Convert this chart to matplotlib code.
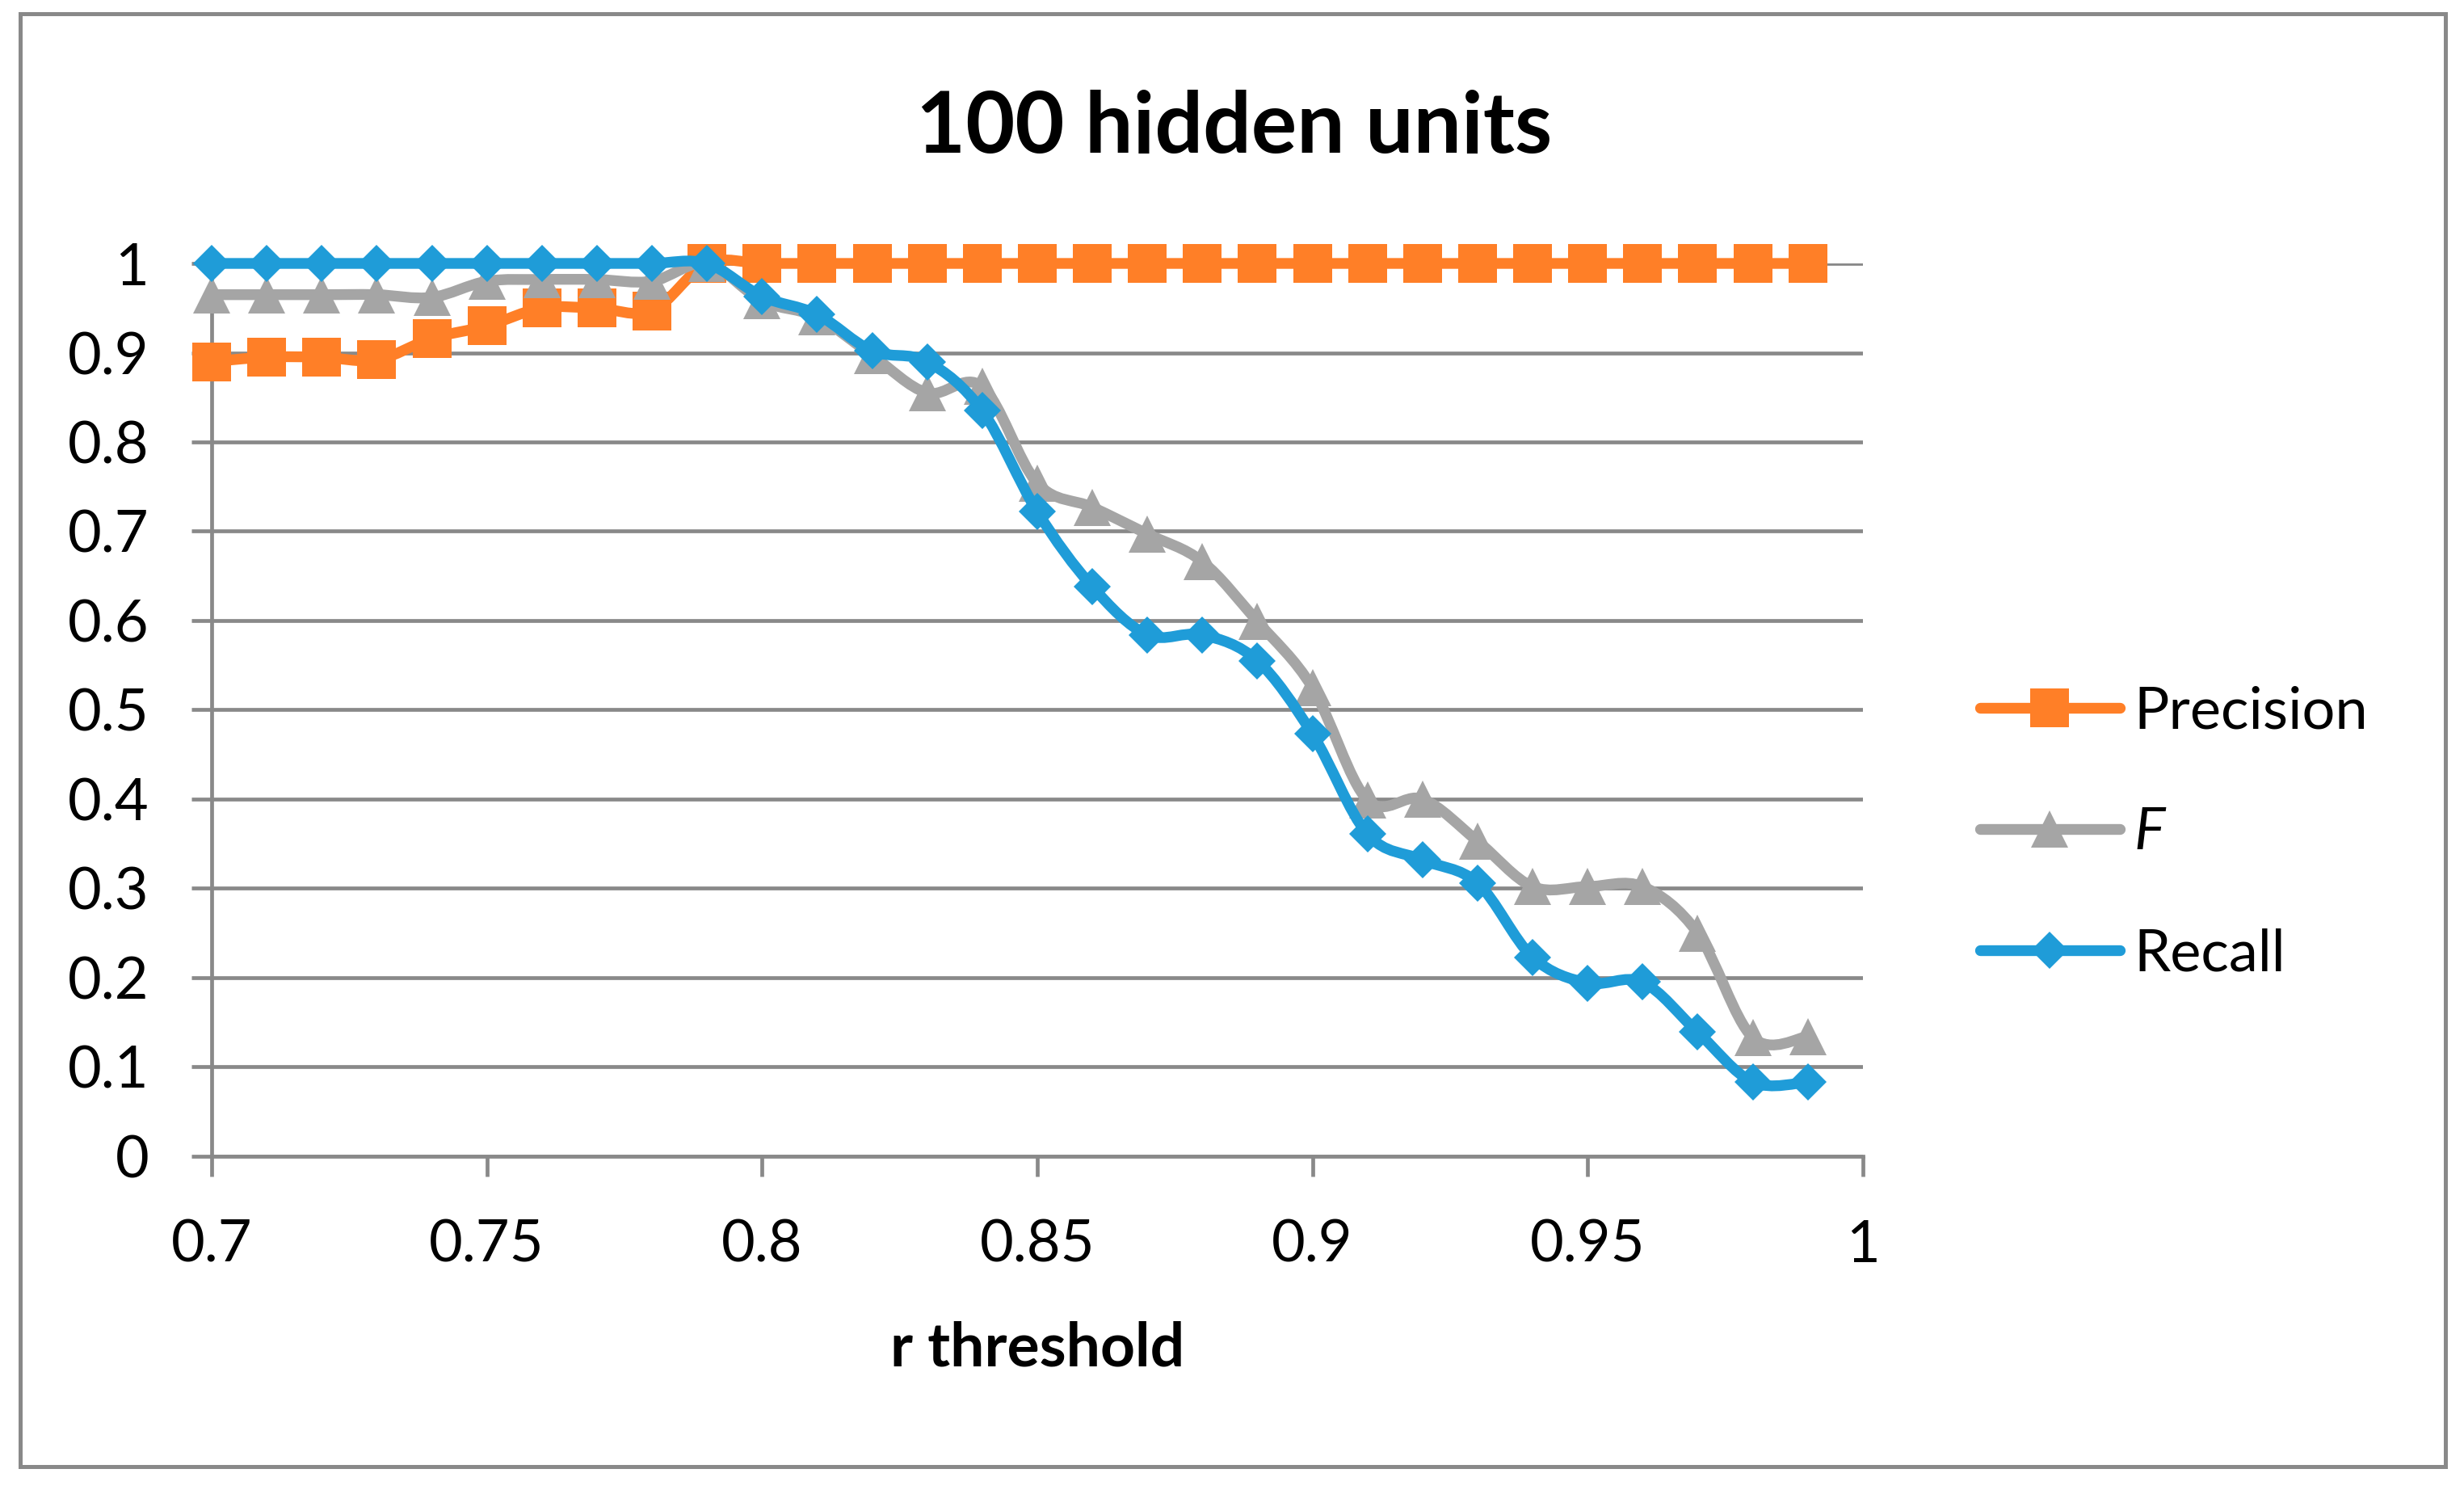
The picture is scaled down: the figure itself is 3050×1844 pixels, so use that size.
import numpy as np
import matplotlib
matplotlib.use("Agg")
import matplotlib.pyplot as plt
from matplotlib.path import Path
from matplotlib.patches import PathPatch, Rectangle
from matplotlib.lines import Line2D
from matplotlib.ticker import FuncFormatter

plt.rcParams['font.family'] = ['Lato', 'DejaVu Sans']

# data
r_threshold = [0.70, 0.71, 0.72, 0.73, 0.74, 0.75, 0.76, 0.77, 0.78, 0.79,
               0.80, 0.81, 0.82, 0.83, 0.84, 0.85, 0.86, 0.87, 0.88, 0.89,
               0.90, 0.91, 0.92, 0.93, 0.94, 0.95, 0.96, 0.97, 0.98, 0.99]
precision = [0.890, 0.895, 0.895, 0.892, 0.916, 0.930, 0.950, 0.950, 0.947, 1.0,
             1.0, 1.0, 1.0, 1.0, 1.0, 1.0, 1.0, 1.0, 1.0, 1.0,
             1.0, 1.0, 1.0, 1.0, 1.0, 1.0, 1.0, 1.0, 1.0, 1.0]
f_score = [0.965, 0.965, 0.965, 0.965, 0.962, 0.980, 0.982, 0.982, 0.980, 1.0,
           0.958, 0.940, 0.897, 0.855, 0.862, 0.754, 0.727, 0.697, 0.666, 0.599,
           0.525, 0.399, 0.400, 0.353, 0.302, 0.302, 0.302, 0.250, 0.133, 0.134]
recall = [1.0, 1.0, 1.0, 1.0, 1.0, 1.0, 1.0, 1.0, 1.0, 1.0,
          0.963, 0.943, 0.902, 0.890, 0.835, 0.722, 0.638, 0.584, 0.584, 0.555,
          0.473, 0.361, 0.332, 0.306, 0.223, 0.194, 0.195, 0.139, 0.083, 0.083]

x_ticks = [0.7, 0.75, 0.8, 0.85, 0.9, 0.95, 1.0]
y_ticks = [0, 0.1, 0.2, 0.3, 0.4, 0.5, 0.6, 0.7, 0.8, 0.9, 1.0]

GRID = '#898989'
LW = 4.8
FS = 26


def smooth_path(xs, ys):
    # excel style smoothed line: bezier segments, catmull-rom control points
    p = np.column_stack([xs, ys]).astype(float)
    n = len(p)
    verts = [p[0]]
    codes = [Path.MOVETO]
    for i in range(n - 1):
        p0 = p[i - 1] if i > 0 else p[i]
        p3 = p[i + 2] if i + 2 < n else p[i + 1]
        c1 = p[i] + (p[i + 1] - p0) / 6.0
        c2 = p[i + 1] - (p3 - p[i]) / 6.0
        verts += [c1, c2, p[i + 1]]
        codes += [Path.CURVE4] * 3
    return Path(verts, codes)


fig = plt.figure(figsize=(15.25, 9.22), dpi=200)
ax = fig.add_axes([0.0859, 0.224, 0.6701, 0.5992])

series = [
    ("Precision", precision, '#FF7F27', 's', 17),
    ("F", f_score, '#A5A5A5', '^', 16.5),
    ("Recall", recall, '#1F9CD8', 'D', 11.8),
]

handles = []
for k, (name, vals, col, mk, ms) in enumerate(series):
    patch = PathPatch(smooth_path(r_threshold, vals), facecolor='none', edgecolor=col,
                      lw=LW, capstyle='round', joinstyle='round', zorder=3 + k, clip_on=False)
    ax.add_patch(patch)
    ax.plot(r_threshold, vals, linestyle='none', marker=mk, ms=ms, color=col,
            mew=0, zorder=3.5 + k, clip_on=False)
    handles.append(Line2D([], [], color=col, lw=LW, marker=mk, ms=ms, mew=0,
                          solid_capstyle='round'))

ax.set_xlim(0.7, 1.0)
ax.set_ylim(0, 1.0)
ax.set_xticks(x_ticks)
ax.set_yticks(y_ticks)
ax.xaxis.set_major_formatter(FuncFormatter(lambda v, p: '%g' % v))
ax.yaxis.set_major_formatter(FuncFormatter(lambda v, p: '%g' % v))

ax.grid(axis='y', color=GRID, lw=1.7, zorder=1)
ax.set_axisbelow(True)
for s in ['top', 'right']:
    ax.spines[s].set_visible(False)
for s in ['left', 'bottom']:
    ax.spines[s].set_color(GRID)
    ax.spines[s].set_linewidth(1.7)
    ax.spines[s].set_zorder(2)
ax.tick_params(axis='both', direction='out', length=9, width=1.7, color=GRID,
               labelsize=FS, pad=19)

fig.text(0.501, 0.8975, "100 hidden units", ha='center', va='baseline',
         fontsize=38, fontweight='bold')
fig.text(0.421, 0.0835, "r threshold", ha='center', va='baseline',
         fontsize=27, fontweight='bold')

leg = fig.legend(handles, [s[0] for s in series], loc='center left',
                 bbox_to_anchor=(0.8036, 0.4409), bbox_transform=fig.transFigure,
                 frameon=False, fontsize=FS, handlelength=2.39, handletextpad=0.25,
                 labelspacing=1.18, borderpad=0, borderaxespad=0, numpoints=1)
leg.get_texts()[1].set_fontstyle('italic')

# chart border
fig.patches.append(Rectangle((0.00836, 0.01546), 0.98394, 0.97559, transform=fig.transFigure,
                             fill=False, edgecolor=GRID, lw=1.8))

fig.savefig("out.png", dpi=200)
